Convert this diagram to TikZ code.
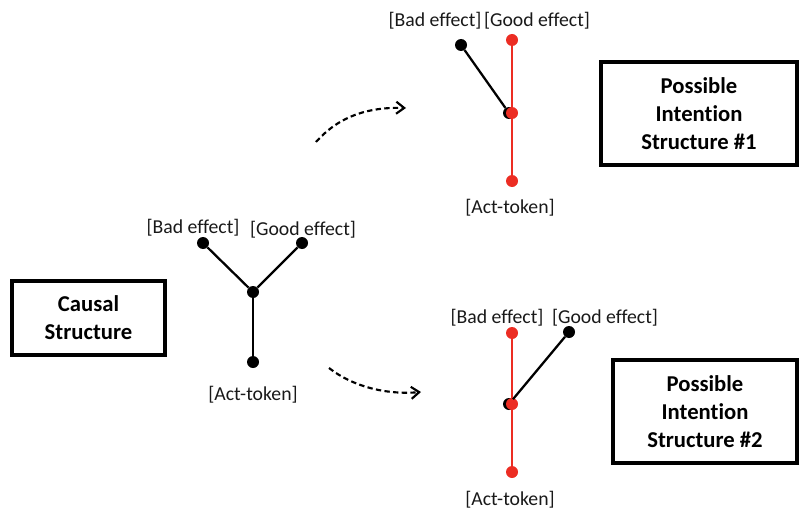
\documentclass[tikz,border=0pt]{standalone}
\usepackage{fontspec}
\setmainfont[Ligatures=NoCommon]{Carlito}
\usetikzlibrary{arrows.meta}
\definecolor{effred}{RGB}{236,45,35}
\newcommand{\intent}{Intent\kern0pt ion}
\tikzset{
  dot/.style={circle,fill=black,inner sep=0pt,minimum size=9pt},
  reddot/.style={circle,fill=effred,inner sep=0pt,minimum size=9pt},
  lab/.style={font=\fontsize{14.8}{17}\selectfont,text=black!90},
  box/.style={draw,line width=3pt,align=center,font=\bfseries\fontsize{17}{21}\selectfont},
  link/.style={line width=1.7pt},
  redlink/.style={line width=1.7pt,effred},
  flow/.style={line width=1.6pt,dashed,dash pattern=on 4pt off 2.5pt,-{Straight Barb[length=6pt,width=9pt,line width=1.6pt]}}
}
\begin{document}
\begin{tikzpicture}[x=0.75pt,y=-0.75pt]
  \useasboundingbox (0,0) rectangle (799,510);
  % causal structure
  \node[box,minimum width=115pt,minimum height=55pt] (causal) at (88.5,318) {Causal\\Structure};
  \node[dot] (cmid) at (253,292) {};
  \node[dot] (cbad) at (203,243) {};
  \node[dot] (cgood) at (302,243) {};
  \node[dot] (cact) at (253,362) {};
  \draw[link] (cbad) -- (cmid);
  \draw[link] (cgood) -- (cmid);
  \draw[link] (cmid) -- (cact);
  \node[lab] (cbadl) at (193,228) {[Bad effect]};
  \node[lab] (cgoodl) at (303,230) {[Good effect]};
  \node[lab] (cactl) at (253,395) {[Act-token]};
  % intention structure 1
  \node[box,minimum width=147pt,minimum height=77pt] (int1) at (699,113.5) {Possible\\\intent\\Structure \#1};
  \node[dot] (abad) at (461,45) {};
  \node[dot] (amidb) at (509,113) {};
  \node[reddot] (agood) at (512,40) {};
  \node[reddot] (amid) at (512,113) {};
  \node[reddot] (aact) at (512,181) {};
  \draw[link] (abad) -- (amidb);
  \draw[redlink] (agood) -- (amid);
  \draw[redlink] (amid) -- (aact);
  \node[lab] (abadl) at (435,21) {[Bad effect]};
  \node[lab] (agoodl) at (537,21) {[Good effect]};
  \node[lab] (aactl) at (510,208) {[Act-token]};
  % intention structure 2
  \node[box,minimum width=138pt,minimum height=77pt] (int2) at (705,411.5) {Possible\\\intent\\Structure \#2};
  \node[dot] (bgood) at (569,332) {};
  \node[dot] (bmidb) at (509,404) {};
  \node[reddot] (bbad) at (512,333) {};
  \node[reddot] (bmid) at (512,404) {};
  \node[reddot] (bact) at (512,472) {};
  \draw[link] (bgood) -- (bmidb);
  \draw[redlink] (bbad) -- (bmid);
  \draw[redlink] (bmid) -- (bact);
  \node[lab] (bbadl) at (497,318) {[Bad effect]};
  \node[lab] (bgoodl) at (605,318) {[Good effect]};
  \node[lab] (bactl) at (510,500) {[Act-token]};
  % dashed arrows
  \coordinate (f1s) at (316,142);
  \coordinate (f1e) at (406,108);
  \coordinate (f2s) at (329,368);
  \coordinate (f2e) at (421,392);
  \draw[flow] (f1s) .. controls (340,115) and (370,107) .. (f1e);
  \draw[flow] (f2s) .. controls (352,386) and (385,395) .. (f2e);
\end{tikzpicture}
\end{document}
